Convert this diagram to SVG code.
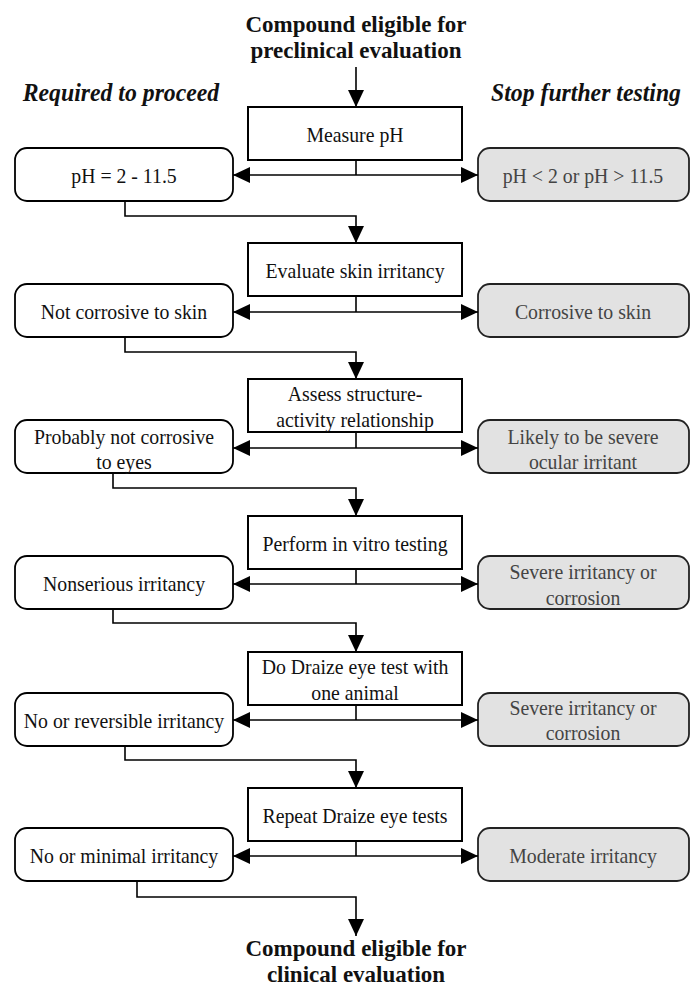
<svg xmlns="http://www.w3.org/2000/svg" width="691" height="987" viewBox="0 0 691 987">
<defs>
<marker id="ah" viewBox="0 0 17 16" refX="17" refY="8" markerWidth="17" markerHeight="16" markerUnits="userSpaceOnUse" orient="auto"><path d="M0,0 L17,8 L0,16 z" fill="#000"/></marker>
</defs>
<style>
.proc{fill:#fff;stroke:#000;stroke-width:2}
.ok{fill:#fff;stroke:#000;stroke-width:1.8}
.stop{fill:#e2e2e2;stroke:#222;stroke-width:1.8}
text{font-family:"Liberation Serif","Times New Roman",serif;font-size:22px;text-anchor:middle;fill:#111;transform-box:fill-box;transform-origin:center;transform:scaleX(0.9)}
.st{fill:#444}
.title{font-weight:bold;font-size:23px;transform:none}
.head{font-weight:bold;font-style:italic;font-size:25px;transform:scaleX(0.95)}
.conn{fill:none;stroke:#000;stroke-width:1.6}
.arr{fill:none;stroke:#000;stroke-width:1.6;marker-end:url(#ah)}
</style>
<rect width="691" height="987" fill="#fff"/>
<g id="start"><text class="title" x="356" y="32">Compound eligible for</text><text class="title" x="356" y="58">preclinical evaluation</text></g>
<g id="end"><text class="title" x="356" y="956">Compound eligible for</text><text class="title" x="356" y="982">clinical evaluation</text></g>
<g id="hdr-left"><text class="head" x="121" y="101">Required to proceed</text></g>
<g id="hdr-right"><text class="head" x="586" y="101">Stop further testing</text></g>

<g id="p1"><rect class="proc" x="248" y="107" width="214" height="53"/><text x="355" y="142">Measure pH</text></g>
<g id="ok1"><rect class="ok" x="15" y="148" width="218" height="53" rx="12"/><text x="124" y="183">pH = 2 - 11.5</text></g>
<g id="st1"><rect class="stop" x="478" y="148" width="211" height="53" rx="12"/><text class="st" x="583" y="183">pH &lt; 2 or pH &gt; 11.5</text></g>

<g id="p2"><rect class="proc" x="248" y="243" width="214" height="53"/><text x="355" y="278">Evaluate skin irritancy</text></g>
<g id="ok2"><rect class="ok" x="15" y="284" width="218" height="53" rx="12"/><text x="124" y="319">Not corrosive to skin</text></g>
<g id="st2"><rect class="stop" x="478" y="284" width="211" height="53" rx="12"/><text class="st" x="583" y="319">Corrosive to skin</text></g>

<g id="p3"><rect class="proc" x="248" y="379" width="214" height="53"/><text x="355" y="401">Assess structure-</text><text x="355" y="427">activity relationship</text></g>
<g id="ok3"><rect class="ok" x="15" y="420" width="218" height="53" rx="12"/><text x="124" y="444">Probably not corrosive</text><text x="124" y="469">to eyes</text></g>
<g id="st3"><rect class="stop" x="478" y="420" width="211" height="53" rx="12"/><text class="st" x="583" y="444">Likely to be severe</text><text class="st" x="583" y="469">ocular irritant</text></g>

<g id="p4"><rect class="proc" x="248" y="516" width="214" height="53"/><text x="355" y="551">Perform in vitro testing</text></g>
<g id="ok4"><rect class="ok" x="15" y="556" width="218" height="53" rx="12"/><text x="124" y="591">Nonserious irritancy</text></g>
<g id="st4"><rect class="stop" x="478" y="556" width="211" height="53" rx="12"/><text class="st" x="583" y="579">Severe irritancy or</text><text class="st" x="583" y="605">corrosion</text></g>

<g id="p5"><rect class="proc" x="248" y="652" width="214" height="53"/><text x="355" y="674">Do Draize eye test with</text><text x="355" y="700">one animal</text></g>
<g id="ok5"><rect class="ok" x="15" y="693" width="218" height="53" rx="12"/><text x="124" y="728">No or reversible irritancy</text></g>
<g id="st5"><rect class="stop" x="478" y="693" width="211" height="53" rx="12"/><text class="st" x="583" y="715">Severe irritancy or</text><text class="st" x="583" y="740">corrosion</text></g>

<g id="p6"><rect class="proc" x="248" y="788" width="214" height="53"/><text x="355" y="823">Repeat Draize eye tests</text></g>
<g id="ok6"><rect class="ok" x="15" y="828" width="218" height="53" rx="12"/><text x="124" y="863">No or minimal irritancy</text></g>
<g id="st6"><rect class="stop" x="478" y="828" width="211" height="53" rx="12"/><text class="st" x="583" y="863">Moderate irritancy</text></g>

<g id="connectors">
<path class="arr" d="M356,67 V107"/>
<path class="conn" d="M356,160 V175"/><path class="arr" d="M356,175 H233"/><path class="arr" d="M356,175 H478"/>
<path class="arr" d="M125,201 V216 H356 V243"/>
<path class="conn" d="M356,296 V312"/><path class="arr" d="M356,312 H233"/><path class="arr" d="M356,312 H478"/>
<path class="arr" d="M125,337 V352 H356 V379"/>
<path class="conn" d="M356,432 V448"/><path class="arr" d="M356,448 H233"/><path class="arr" d="M356,448 H478"/>
<path class="arr" d="M113,473 V488 H356 V516"/>
<path class="conn" d="M356,569 V584"/><path class="arr" d="M356,584 H233"/><path class="arr" d="M356,584 H478"/>
<path class="arr" d="M113,609 V623 H356 V652"/>
<path class="conn" d="M356,705 V720"/><path class="arr" d="M356,720 H233"/><path class="arr" d="M356,720 H478"/>
<path class="arr" d="M125,746 V760 H356 V788"/>
<path class="conn" d="M356,841 V856"/><path class="arr" d="M356,856 H233"/><path class="arr" d="M356,856 H478"/>
<path class="arr" d="M137,881 V897 H356 V936"/>
</g>
</svg>
